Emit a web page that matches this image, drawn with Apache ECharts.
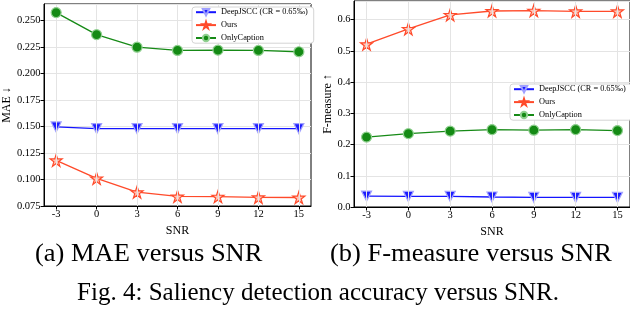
<!DOCTYPE html>
<html><head><meta charset="utf-8">
<script src="https://cdn.jsdelivr.net/npm/echarts@6/dist/echarts.min.js"></script>
<style>html,body{margin:0;padding:0;background:#fff}#c{width:630px;height:320px}</style>
</head><body><div id="c"></div>
<script>
const snr = [-3, 0, 3, 6, 9, 12, 15];
const maeDeep = [0.1495, 0.148, 0.148, 0.148, 0.148, 0.148, 0.148];
const maeOurs = [0.118, 0.101, 0.088, 0.084, 0.0838, 0.0832, 0.083];
const maeCap = [0.2573, 0.2365, 0.2247, 0.2216, 0.2219, 0.2216, 0.2204];
const fDeep = [0.035, 0.034, 0.034, 0.032, 0.031, 0.031, 0.031];
const fOurs = [0.5215, 0.5705, 0.6155, 0.628, 0.629, 0.627, 0.627];
const fCap = [0.224, 0.235, 0.243, 0.248, 0.246, 0.248, 0.245];
const names = ['DeepJSCC (CR = 0.65‰)', 'Ours', 'OnlyCaption'];
const captionA = '(a) MAE versus SNR';
const captionB = '(b) F-measure versus SNR';
const figCaption = 'Fig. 4: Saliency detection accuracy versus SNR.';

const FONT = '"Liberation Serif", "DejaVu Serif", serif';
const STAR = 'path://M50,0 L61.8,35.1 L98.9,35.1 L68.9,56.8 L80.3,91.8 L50,70 L19.7,91.8 L31.1,56.8 L1.1,35.1 L38.2,35.1 Z';
const GRID_C = '#e4e4e4';

function pairs(vals){ return snr.map((x,i)=>[x, vals[i]]); }

function mkSeries(xi, data3){
  const styles = [
    {color:'#1414ff', sym:'triangle', rot:180, size:10, fill:'#1c1cff', border:'#a0a0ff'},
    {color:'#ff4a2a', sym:STAR, rot:0, size:12, fill:'#ffc4b6', border:'#ff4a2a'},
    {color:'#168a16', sym:'circle', rot:0, size:10, fill:'#148a14', border:'#90d090'}
  ];
  const out = data3.map((d,k)=>({
    name: names[k], type:'line', xAxisIndex:xi, yAxisIndex:xi,
    data: pairs(d), symbol: styles[k].sym, symbolRotate: styles[k].rot,
    symbolSize: styles[k].size, showAllSymbol:true,
    lineStyle:{color:styles[k].color, width:1.3},
    itemStyle:{color:styles[k].fill, borderColor:styles[k].border, borderWidth:1.2},
    emphasis:{disabled:true}, animation:false, z: 3+k
  }));
  out.push({
    type:'line', xAxisIndex:xi, yAxisIndex:xi, data:[], z:1, silent:true,
    markLine:{silent:true, symbol:'none', label:{show:false}, animation:false,
      lineStyle:{color:GRID_C, width:1, type:'solid'},
      emphasis:{disabled:true},
      data: snr.map(v=>({xAxis:v}))}
  });
  return out;
}

function xAxis(gi){
  return {
    type:'value', gridIndex:gi, min:-3.9, max:15.9,
    name:'SNR', nameLocation:'middle', nameGap:11,
    nameTextStyle:{fontFamily:FONT, fontSize:12, color:'#000'},
    axisLine:{show:true, onZero:false, lineStyle:{color:'#000', width:1}},
    axisTick:{show:true, length:3.5, customValues:snr, lineStyle:{color:'#000'}},
    axisLabel:{customValues:snr, fontFamily:FONT, fontSize:10.5, color:'#000', margin:3},
    splitLine:{show:false}
  };
}
function yAxis(gi, min, max, interval, name, dec, gap){
  return {
    type:'value', gridIndex:gi, min:min, max:max, interval:interval,
    name:name, nameLocation:'middle', nameGap:gap,
    nameTextStyle:{fontFamily:FONT, fontSize:12, color:'#000'},
    axisLine:{show:true, onZero:false, lineStyle:{color:'#000', width:1}},
    axisTick:{show:true, length:3.5, lineStyle:{color:'#000'}},
    axisLabel:{fontFamily:FONT, fontSize:10.5, color:'#000', margin:3.5, showMaxLabel:false,
      formatter:(v)=>v.toFixed(dec)},
    splitLine:{show:true, lineStyle:{color:GRID_C, width:1}}
  };
}

function legend(left, top){
  return {data:names, left:left, top:top, orient:'vertical', itemGap:4.5, itemWidth:20, itemHeight:8,
     padding:[1,6,1,3], backgroundColor:'#fff', borderColor:'#d4d4d4', borderWidth:1, borderRadius:3,
     textStyle:{fontFamily:FONT, fontSize:8.3, color:'#000'}, selectedMode:false, z:10};
}

const chart = echarts.init(document.getElementById('c'), null, {renderer:'canvas'});
chart.setOption({
  animation:false,
  grid:[
    {left:40, top:4, width:271, height:202, show:true, borderColor:'#000', borderWidth:1, backgroundColor:'transparent'},
    {left:354, top:1, width:276, height:206, show:true, borderColor:'#000', borderWidth:1, backgroundColor:'transparent'}
  ],
  xAxis:[xAxis(0), xAxis(1)],
  yAxis:[yAxis(0, 0.075, 0.2654, 0.025, 'MAE ↓', 3, 27), yAxis(1, 0.0, 0.66, 0.1, 'F-measure ↑', 1, 16)],
  legend:[legend(192, 7), legend(510, 84)],
  series:[...mkSeries(0,[maeDeep, maeOurs, maeCap]), ...mkSeries(1,[fDeep, fOurs, fCap])],
  graphic:[
    {type:'text', x:35, y:254, scaleX:1.06, style:{text:captionA, font:'25px '+FONT, fill:'#000', textVerticalAlign:'middle'}},
    {type:'text', x:330, y:254, scaleX:1.06, style:{text:captionB, font:'25px '+FONT, fill:'#000', textVerticalAlign:'middle'}},
    {type:'text', x:318, y:293, style:{text:figCaption, font:'25px '+FONT, fill:'#000', textAlign:'center', textVerticalAlign:'middle'}}
  ]
});
</script></body></html>
